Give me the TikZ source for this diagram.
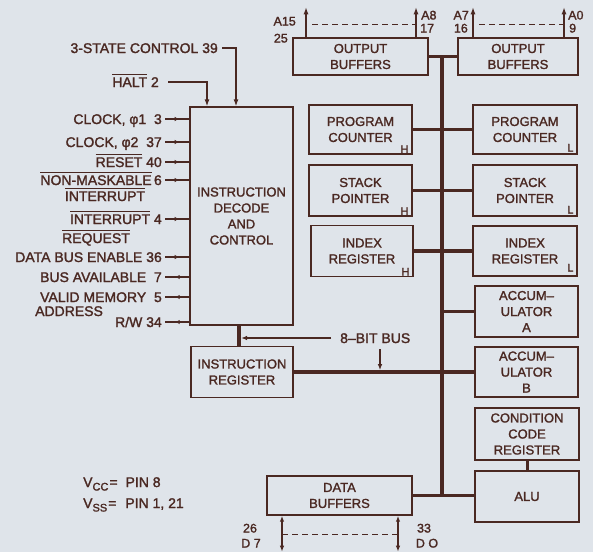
\documentclass[tikz,border=0pt]{standalone}
\usepackage{fontspec}
\setmainfont{Liberation Sans}[BoldFont={Liberation Sans}, BoldFeatures={FakeBold=1.6}]
\usetikzlibrary{arrows.meta,decorations.markings}
\definecolor{bg}{RGB}{223,228,234}
\definecolor{ink}{RGB}{74,40,34}
\newcommand{\ovl}[1]{\leavevmode\vbox{\hrule height 1pt\kern 2.2pt\hbox{#1}}}
\newcommand{\boxfont}{\fontsize{13}{16}\selectfont\bfseries}
\newcommand{\lblfont}{\fontsize{14}{16}\selectfont\bfseries}
\newcommand{\smallfont}{\fontsize{12.5}{13}\selectfont\bfseries}
\begin{document}
\begin{tikzpicture}[x=1pt,y=-1pt,
  box/.style={draw=ink, line width=1.4pt, text=ink, align=center, inner sep=0pt, font=\boxfont},
  bus/.style={draw=ink, line width=3.8pt},
  sig/.style={draw=ink, line width=1.2pt},
  lbl/.style={text=ink, inner sep=0pt, font=\lblfont, text height=10pt, text depth=0pt},
  slbl/.style={text=ink, inner sep=0pt, font=\smallfont, text height=9pt, text depth=0pt},
  sub/.style={text=ink, inner sep=0pt, font=\fontsize{11}{11}\selectfont\bfseries},
  tip/.style={-{Latex[length=7pt,width=5pt]}},
  midarrow/.style={postaction={decorate}, decoration={markings, mark=at position 0.6 with {\arrow{Latex[length=5pt,width=4.5pt]}}}}
]
\fill[bg] (0,0) rectangle (593,552);
\useasboundingbox (0,0) rectangle (593,552);

% boxes
\node[box, minimum width=135, minimum height=37] (ob1) at (360.5,56.5) {OUTPUT\\BUFFERS};
\node[box, minimum width=120, minimum height=37] (ob2) at (518,56.5) {OUTPUT\\BUFFERS};
\node[box, minimum width=103, minimum height=49] (pch) at (360.5,129.5) {PROGRAM\\COUNTER};
\node[box, minimum width=104, minimum height=49] (pcl) at (525,129.5) {PROGRAM\\COUNTER};
\node[box, minimum width=103, minimum height=51] (sph) at (360.5,190.5) {STACK\\POINTER};
\node[box, minimum width=104, minimum height=51] (spl) at (525,190.5) {STACK\\POINTER};
\node[box, minimum width=102, minimum height=51] (ixh) at (362,251) {INDEX\\REGISTER};
\node[box, minimum width=104, minimum height=50] (ixl) at (525,251) {INDEX\\REGISTER};
\node[box, minimum width=103, minimum height=51] (acca) at (526.5,311.5) {ACCUM–\\ULATOR\\A};
\node[box, minimum width=103, minimum height=50] (accb) at (526.5,372) {ACCUM–\\ULATOR\\B};
\node[box, minimum width=104, minimum height=52] (ccr) at (527,434) {CONDITION\\CODE\\REGISTER};
\node[box, minimum width=104, minimum height=51] (alu) at (527,496.5) {ALU};
\node[box, minimum width=103, minimum height=218] (idc) at (241.5,216) {INSTRUCTION\\DECODE\\AND\\CONTROL};
\node[box, minimum width=102, minimum height=51] (ir) at (242,372) {INSTRUCTION\\REGISTER};
\node[box, minimum width=145, minimum height=39] (db) at (339.5,495.5) {DATA\\BUFFERS};

% H / L marks
\node[sub, anchor=south east, xshift=-4pt, yshift=1.5pt] (hpc) at (pch.south east) {H};
\node[sub, anchor=south east, xshift=-4pt, yshift=1.5pt] (hsp) at (sph.south east) {H};
\node[sub, anchor=south east, xshift=-4pt, yshift=1.5pt] (hix) at (ixh.south east) {H};
\node[sub, anchor=south east, xshift=-4pt, yshift=3pt] (lpc) at (pcl.south east) {L};
\node[sub, anchor=south east, xshift=-4pt, yshift=3pt] (lsp) at (spl.south east) {L};
\node[sub, anchor=south east, xshift=-4pt, yshift=5pt] (lix) at (ixl.south east) {L};

% internal bus
\coordinate (btop) at (442,56.5);
\coordinate (bbot) at (442,495.5);
\draw[bus] (ob1.east) -- (ob2.west);
\draw[bus] (btop) -- (bbot);
\draw[bus] (pch.east) -- (pcl.west);
\draw[bus] (sph.east) -- (spl.west);
\draw[bus] (ixh.east) -- (ixl.west);
\draw[bus] (acca.west) -- (acca.west -| bbot);
\draw[bus] (ir.east) -- (accb.west);
\draw[bus] (db.east) -- (db.east -| alu.west);
\draw[bus, line width=3pt] (ccr.south) -- (alu.north);
\coordinate (irx) at (239,0);
\draw[bus] (idc.south -| irx) -- (ir.north -| irx);

% 8-bit bus label
\node[lbl, anchor=west] (bbl) at (340,338) {8–BIT BUS};
\draw[sig, -{Latex[length=6pt,width=4.5pt]}, shorten >=2pt] (bbl.west) ++(-9,0) -- (bbl.west -| irx);
\coordinate (dA) at (380,349);
\draw[sig, -{Latex[length=6pt,width=4.5pt]}, shorten >=1.8pt] (dA) -- (dA |- ir.east);

% control inputs at top
\node[lbl, anchor=east] (tsc) at (218,48) {3-STATE CONTROL 39};
\coordinate (tx) at (236,0);
\draw[sig, tip] (tsc.east) ++(4,0) -| (idc.north -| tx);
\node[lbl, anchor=east] (halt) at (159,82) {\ovl{HALT} 2};
\coordinate (hx) at (207,0);
\draw[sig, tip] (halt.east) ++(9,0) -| (idc.north -| hx);

% left signals
\node[lbl, anchor=east] (s1) at (162,119) {CLOCK, φ1 \ 3};
\node[lbl, anchor=east] (s2) at (162,142) {CLOCK, φ2 \ 37};
\node[lbl, anchor=east] (s3) at (162,162) {\ovl{RESET} 40};
\node[lbl, anchor=east] (s4) at (162,180) {\ovl{NON-MASKABLE}\,6};
\node[lbl] (s4b) at (105,196) {\ovl{INTERRUPT}};
\node[lbl, anchor=east] (s5) at (162,219) {\ovl{INTERRUPT} 4};
\node[lbl] (s5b) at (96,238) {\ovl{REQUEST}};
\node[lbl, anchor=east] (s6) at (162,257) {DATA BUS ENABLE 36};
\node[lbl, anchor=east] (s7) at (162,277) {BUS AVAILABLE \ 7};
\node[lbl, anchor=east] (s8) at (162,297) {VALID MEMORY \ 5};
\node[lbl, anchor=west] (s8b) at (35,311) {ADDRESS};
\node[lbl, anchor=east] (s9) at (162,322) {R/W 34};
\foreach \s in {s1,s2,s3,s4,s5,s6}{
  \draw[sig, midarrow] (\s.east) ++(3,0) -- (\s.east -| idc.west);
}
\foreach \s in {s7,s8,s9}{
  \draw[sig, midarrow] (\s.east -| idc.west) -- ([xshift=3pt]\s.east);
}

% address outputs
\coordinate (a15) at (306,0);
\coordinate (a8) at (416,0);
\coordinate (a7) at (473,0);
\coordinate (a0) at (564,0);
\draw[sig, tip] (ob1.north -| a15) -- ++(0,-30);
\draw[sig, tip] (ob1.north -| a8) -- ++(0,-30);
\draw[sig, tip] (ob2.north -| a7) -- ++(0,-30);
\draw[sig, tip] (ob2.north -| a0) -- ++(0,-30);
\draw[sig, dash pattern=on 6pt off 4pt] ([yshift=13pt]ob1.north -| a15) ++(6,0) -- ([yshift=13pt]ob1.north -| a8);
\draw[sig, dash pattern=on 6pt off 4pt] ([yshift=13pt]ob2.north -| a7) ++(6,0) -- ([yshift=13pt]ob2.north -| a0);
\node[slbl, anchor=east] (la15) at (296,21) {A15};
\node[slbl, anchor=east] (l25) at (288,38) {25};
\node[slbl, anchor=west] (la8) at (421,15) {A8};
\node[slbl, anchor=west] (l17) at (420,28) {17};
\node[slbl, anchor=east] (la7) at (469,15) {A7};
\node[slbl, anchor=east] (l16) at (468,28) {16};
\node[slbl, anchor=west] (la0) at (568,15) {A0};
\node[slbl, anchor=west] (l9) at (569,28) {9};

% data lines
\coordinate (d7) at (282,0);
\coordinate (d0) at (398,0);
\draw[sig, {Latex[length=6pt,width=4.5pt]}-{Latex[length=6pt,width=4.5pt]}] (db.south -| d7) -- ++(0,36);
\draw[sig, {Latex[length=6pt,width=4.5pt]}-{Latex[length=6pt,width=4.5pt]}] (db.south -| d0) -- ++(0,36);
\draw[sig, dash pattern=on 6pt off 4pt] (db.south -| d7) ++(0,19) -- ([yshift=-19pt]db.south -| d0);
\node[slbl] (l26) at (250,528) {26};
\node[slbl] (ld7) at (251,543) {D 7};
\node[slbl] (l33) at (424,528) {33};
\node[slbl] (ld0) at (427,543) {D O};

% power
\node[lbl, anchor=west] (vcc) at (83,482) {V\raisebox{-3.5pt}{\fontsize{11}{11}\selectfont\bfseries CC}\hspace{1pt}=\hspace{8pt}PIN 8};
\node[lbl, anchor=west] (vss) at (83,503) {V\raisebox{-3.5pt}{\fontsize{11}{11}\selectfont\bfseries SS}\hspace{1pt}=\hspace{9pt}PIN 1, 21};
\end{tikzpicture}
\end{document}
